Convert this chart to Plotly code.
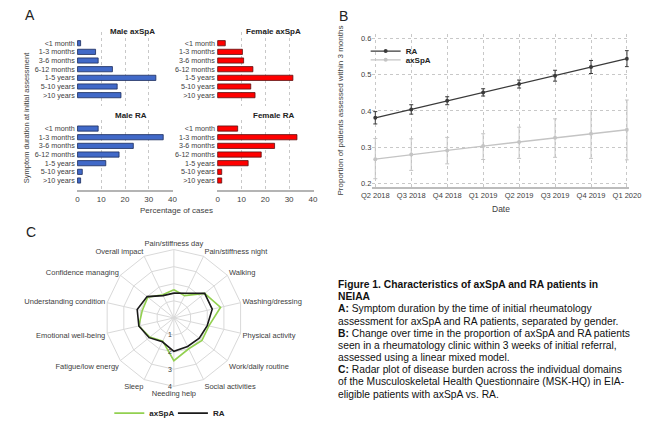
import plotly.graph_objects as go

W, H = 662, 428
def px(x): return x / W
def py(y): return 1 - y / H

FONT = "Liberation Sans, Arial, sans-serif"
TXT = "#404040"

# ---------------- Data ----------------
durations = ["<1 month", "1-3 months", "3-6 months", "6-12 months",
             "1-5 years", "5-10 years", ">10 years"]
male_axspa = [1.3, 7.6, 8.7, 14.7, 33.0, 16.7, 18.3]
female_axspa = [3.2, 10.4, 10.9, 14.8, 31.6, 13.9, 15.7]
male_ra = [8.7, 36.1, 23.5, 17.5, 11.9, 2.0, 1.3]
female_ra = [8.4, 33.3, 23.9, 18.3, 12.8, 1.7, 1.7]
pct_ticks = [0, 10, 20, 30, 40]

quarters = ["Q2 2018", "Q3 2018", "Q4 2018", "Q1 2019",
            "Q2 2019", "Q3 2019", "Q4 2019", "Q1 2020"]
ra_prop = [0.381, 0.404, 0.428, 0.451, 0.474, 0.497, 0.521, 0.544]
ra_err = [0.017, 0.013, 0.011, 0.010, 0.011, 0.015, 0.018, 0.022]
axspa_prop = [0.267, 0.280, 0.291, 0.303, 0.314, 0.326, 0.337, 0.348]
axspa_err_plus = [0.057, 0.043, 0.036, 0.034, 0.041, 0.052, 0.064, 0.082]
axspa_err_minus = [0.054, 0.044, 0.037, 0.037, 0.045, 0.054, 0.068, 0.083]
prop_ticks = [0.2, 0.3, 0.4, 0.5, 0.6]

domains = ["Pain/stiffness day", "Pain/stiffness night", "Walking",
           "Washing/dressing", "Physical activity", "Work/daily routine",
           "Social activities", "Needing help", "Sleep", "Fatigue/low energy",
           "Emotional well-being", "Understanding condition",
           "Confidence managing", "Overall impact"]
radar_axspa = [1.65, 1.45, 2.3, 2.8, 2.1, 2.1, 2.0, 2.5, 1.5, 1.8, 2.1, 1.9, 1.95, 1.5]
radar_ra = [1.45, 1.6, 2.3, 2.3, 2.0, 1.9, 1.85, 1.95, 1.55, 1.85, 2.1, 2.2, 2.0, 1.45]

caption_lines = [
    "<b>Figure 1. Characteristics of axSpA and RA patients in</b>",
    "<b>NEIAA</b>",
    "<b>A:</b> Symptom duration by the time of initial rheumatology",
    "assessment for axSpA and RA patients, separated by gender.",
    "<b>B:</b> Change over time in the proportion of axSpA and RA patients",
    "seen in a rheumatology clinic within 3 weeks of initial referral,",
    "assessed using a linear mixed model.",
    "<b>C:</b> Radar plot of disease burden across the individual domains",
    "of the Musculoskeletal Health Questionnaire (MSK-HQ) in EIA-",
    "eligible patients with axSpA vs. RA.",
]

BLUE, BLUE_EDGE = "#4169c8", "#1c2c5c"
RED, RED_EDGE = "#ff0000", "#5a1010"

fig = go.Figure()

# ---------------- Panel A ----------------
panels = [
    ("x", "y", male_axspa, BLUE, BLUE_EDGE),
    ("x2", "y2", female_axspa, RED, RED_EDGE),
    ("x3", "y3", male_ra, BLUE, BLUE_EDGE),
    ("x4", "y4", female_ra, RED, RED_EDGE),
]
for xa, ya, vals, col, edge in panels:
    fig.add_trace(go.Bar(x=vals, y=durations, orientation="h", xaxis=xa, yaxis=ya,
                         marker=dict(color=col, line=dict(color=edge, width=0.8)),
                         width=0.6, showlegend=False))

xdom_m = [px(68.3), px(168.3)]
xdom_f = [px(213.7), px(314.0)]
ydom_top = [py(108), py(33)]
ydom_bot = [py(194), py(122)]

def a_xaxis(dom, anchor, labels):
    return dict(domain=dom, anchor=anchor, range=[-0.3, 40.3], tickvals=pct_ticks,
                showticklabels=labels, showgrid=True, gridcolor="#c8c8c8", griddash="dot",
                zeroline=False, showline=labels, linecolor="#b4b4b4", linewidth=2,
                ticks="", tickfont=dict(size=8, color=TXT, family=FONT))

def a_yaxis(dom, anchor, rng):
    return dict(domain=dom, anchor=anchor, type="category", categoryarray=durations,
                tickmode="array", tickvals=durations, ticktext=durations,
                range=rng, showgrid=False, zeroline=False, showline=False, ticks="",
                ticklabelstandoff=1,
                tickfont=dict(size=7.2, color=TXT, family=FONT))

layout = dict(
    xaxis=a_xaxis(xdom_m, "y", False),
    xaxis2=a_xaxis(xdom_f, "y2", False),
    xaxis3=a_xaxis(xdom_m, "y3", True),
    xaxis4=a_xaxis(xdom_f, "y4", True),
    yaxis=a_yaxis(ydom_top, "x", [7.25, -1.25]),
    yaxis2=a_yaxis(ydom_top, "x2", [7.25, -1.25]),
    yaxis3=a_yaxis(ydom_bot, "x3", [7.14, -1.02]),
    yaxis4=a_yaxis(ydom_bot, "x4", [7.14, -1.02]),
)

# ---------------- Panel B ----------------
fig.add_trace(go.Scatter(
    x=quarters, y=ra_prop, xaxis="x5", yaxis="y5", mode="lines+markers", name="RA",
    line=dict(color="#3a3a3a", width=1.3), marker=dict(size=4, color="#3a3a3a"),
    error_y=dict(type="data", array=ra_err, color="#3a3a3a", thickness=1, width=2),
    legend="legend"))
fig.add_trace(go.Scatter(
    x=quarters, y=axspa_prop, xaxis="x5", yaxis="y5", mode="lines+markers", name="axSpA",
    line=dict(color="#c4c4c4", width=1.3), marker=dict(size=4, color="#c4c4c4"),
    error_y=dict(type="data", array=axspa_err_plus, arrayminus=axspa_err_minus,
                 color="#c4c4c4", thickness=1, width=2),
    legend="legend3"))

layout["xaxis5"] = dict(domain=[px(375), px(641)], anchor="y5", type="category",
                        categoryarray=quarters, range=[-0.08, 7.05],
                        showgrid=True, gridcolor="#c8c8c8", griddash="dot",
                        showline=True, linecolor="#bcbcbc", linewidth=1.5, ticks="",
                        tickfont=dict(size=7.5, color=TXT, family=FONT))
layout["yaxis5"] = dict(domain=[py(191), py(35)], anchor="x5", range=[0.189, 0.611],
                        tickvals=prop_ticks, tickformat=".1f",
                        showgrid=True, gridcolor="#c8c8c8", griddash="dot",
                        zeroline=False, showline=False, ticks="",
                        tickfont=dict(size=7.5, color=TXT, family=FONT))

# ---------------- Panel C ----------------
fig.add_trace(go.Scatterpolar(
    r=radar_axspa + radar_axspa[:1], theta=domains + domains[:1], mode="lines",
    name="axSpA", line=dict(color="#92d050", width=1.6), legend="legend2"))
fig.add_trace(go.Scatterpolar(
    r=radar_ra + radar_ra[:1], theta=domains + domains[:1], mode="lines",
    name="RA", line=dict(color="#1a1a1a", width=1.6), legend="legend4"))

layout["polar"] = dict(
    domain=dict(x=[px(98), px(240)], y=[py(395), py(253)]),
    bgcolor="white", gridshape="linear",
    angularaxis=dict(rotation=90, direction="clockwise", type="category",
                     categoryarray=domains, gridcolor="#d9d9d9", linecolor="#d9d9d9",
                     ticks="", tickfont=dict(size=7.5, color=TXT, family=FONT)),
    radialaxis=dict(range=[0, 4], tickvals=[1, 2, 3, 4], angle=-90, tickangle=-90,
                    gridcolor="#d9d9d9", showline=False, ticks="",
                    tickfont=dict(size=7, color=TXT, family=FONT)),
)

# ---------------- Layout ----------------
annotations = [
    dict(text="A", x=px(20), y=py(15), font=dict(size=14, color="#222")),
    dict(text="B", x=px(345), y=py(16), font=dict(size=14, color="#222")),
    dict(text="C", x=px(21), y=py(236), font=dict(size=14, color="#222")),
    dict(text="<b>Male axSpA</b>", x=px(126), y=py(32), font=dict(size=8, color="#222")),
    dict(text="<b>Female axSpA</b>", x=px(272), y=py(32), font=dict(size=8, color="#222")),
    dict(text="<b>Male RA</b>", x=px(125), y=py(118), font=dict(size=8, color="#222")),
    dict(text="<b>Female RA</b>", x=px(273), y=py(118), font=dict(size=8, color="#222")),
    dict(text="Percentage of cases", x=px(172), y=py(215), font=dict(size=8, color=TXT)),
    dict(text="Symptom duration at initial assessment", x=px(16), y=py(120), textangle=-90,
         font=dict(size=7.5, color=TXT)),
    dict(text="Date", x=px(508), y=py(213), font=dict(size=8.5, color=TXT)),
    dict(text="Proportion of patients assessed within 3 months", x=px(342), y=py(113),
         textangle=-90, font=dict(size=8, color=TXT)),
]
for i, line in enumerate(caption_lines):
    annotations.append(dict(text=line, x=px(337), y=py(290 + 12.4 * i), xanchor="left",
                            font=dict(size=10.3, color="#111")))
for a in annotations:
    a.setdefault("xref", "paper")
    a.setdefault("yref", "paper")
    a.setdefault("showarrow", False)
    a.setdefault("xanchor", "center")
    a.setdefault("yanchor", "middle")
    a["font"].setdefault("family", FONT)

def one_legend(x, y):
    return dict(x=px(x), y=py(y), xanchor="left", yanchor="middle",
                bgcolor="rgba(0,0,0,0)", borderwidth=0,
                font=dict(size=8, color="#222", weight="bold"), itemwidth=30)

layout.update(
    width=W, height=H, margin=dict(l=0, r=0, t=0, b=0),
    paper_bgcolor="white", plot_bgcolor="white",
    font=dict(family=FONT, color=TXT),
    annotations=annotations,
    legend=one_legend(368, 52),
    legend3=one_legend(368, 61),
    legend2=one_legend(102, 421),
    legend4=one_legend(168, 421),
)
fig.update_layout(**layout)
fig.write_html("out.html", config={"displayModeBar": False},
               post_script="document.body.style.margin='0';")
